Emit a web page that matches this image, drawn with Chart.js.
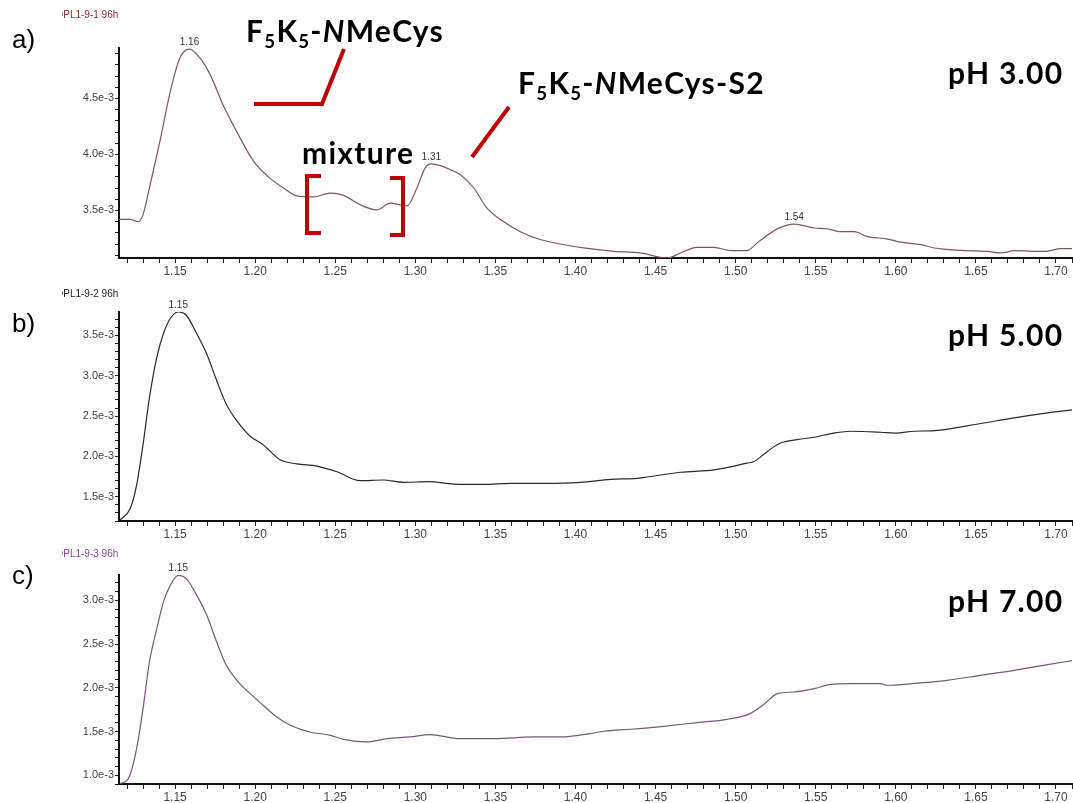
<!DOCTYPE html>
<html>
<head>
<meta charset="utf-8">
<script src="https://cdn.jsdelivr.net/npm/chart.js@4.4.1/dist/chart.umd.min.js"></script>
<style>
body { margin:0; background:#fff; width:1073px; height:803px; overflow:hidden; position:relative; font-family:"Liberation Sans", Arial, sans-serif; }
canvas { position:absolute; left:0; }
.lbl { position:absolute; white-space:nowrap; line-height:1; }
.big { font-family:Lato, "Open Sans", sans-serif; font-weight:700; font-size:30px; letter-spacing:1.3px; color:#000; }
.panel { font-size:26px; color:#000; }
.run { font-size:10px; overflow:hidden; width:62px; }
.run span { margin-left:-6px; }
sub { font-size:0.62em; vertical-align:-0.3em; line-height:0; }
</style>
</head>
<body>
<canvas id="chartA" width="1073" height="285" style="top:0"></canvas>
<canvas id="chartB" width="1073" height="260" style="top:285px"></canvas>
<canvas id="chartC" width="1073" height="258" style="top:545px"></canvas>

<!-- etiquetas de texto -->
<div class="lbl panel" style="left:12px;top:26px">a)</div>
<div class="lbl panel" style="left:12px;top:310px">b)</div>
<div class="lbl panel" style="left:12px;top:562px">c)</div>
<div class="lbl run" style="left:62px;top:10px;color:#8b2a2a"><span>DPL1-9-1 96h</span></div>
<div class="lbl run" style="left:62px;top:289px;color:#222"><span>DPL1-9-2 96h</span></div>
<div class="lbl run" style="left:62px;top:549px;color:#8e3fa0"><span>DPL1-9-3 96h</span></div>
<div class="lbl big" style="left:246px;top:15px">F<sub>5</sub>K<sub>5</sub>-<i>N</i>MeCys</div>
<div class="lbl big" style="left:518px;top:67px">F<sub>5</sub>K<sub>5</sub>-<i>N</i>MeCys-S2</div>
<div class="lbl big" style="left:302px;top:137px">mixture</div>
<div class="lbl big" style="left:948px;top:57px">pH 3.00</div>
<div class="lbl big" style="left:948px;top:319px">pH 5.00</div>
<div class="lbl big" style="left:948px;top:585px">pH 7.00</div>

<!-- lineas rojas de anotacion -->
<svg width="1073" height="803" style="position:absolute;left:0;top:0" fill="none" stroke="#c00000" stroke-width="4">
  <polyline points="254,104 322,104 344,49"/>
  <line x1="472" y1="157" x2="509" y2="107"/>
  <polyline points="321,176 307,176 307,233 321,233"/>
  <polyline points="390,178 403,178 403,235 390,235"/>
</svg>

<script>
// Datos de cada cromatograma (x en min, y en unidades de 1e-3)
const xA = [1.115,1.122,1.127,1.130,1.134,1.1406,1.147,1.153,1.159,1.1656,1.172,1.180,1.1886,1.199,1.209,1.2177,1.226,1.2365,1.247,1.2552,1.2656,1.276,1.2844,1.2906,1.2948,1.301,1.3062,1.310,1.3156,1.322,1.328,1.3365,1.3448,1.355,1.3656,1.378,1.3906,1.405,1.424,1.4406,1.4573,1.4656,1.476,1.4865,1.497,1.507,1.5135,1.526,1.5365,1.549,1.557,1.5656,1.574,1.582,1.5948,1.603,1.6156,1.624,1.6406,1.657,1.6656,1.674,1.693,1.703,1.711];
const yA = [3.42,3.42,3.40,3.46,3.70,4.12,4.56,4.86,4.94,4.86,4.71,4.44,4.20,3.94,3.79,3.70,3.63,3.62,3.655,3.634,3.55,3.505,3.565,3.55,3.54,3.70,3.88,3.915,3.90,3.863,3.82,3.70,3.52,3.40,3.31,3.24,3.20,3.165,3.135,3.12,3.075,3.12,3.17,3.17,3.14,3.14,3.21,3.335,3.378,3.343,3.336,3.31,3.31,3.268,3.244,3.217,3.194,3.164,3.143,3.134,3.12,3.14,3.134,3.158,3.158];

const xB = [1.1156,1.122,1.126,1.130,1.134,1.1386,1.1427,1.147,1.152,1.157,1.1636,1.1698,1.176,1.182,1.1886,1.1969,1.205,1.2156,1.226,1.2386,1.251,1.2656,1.280,1.2927,1.309,1.324,1.3427,1.3594,1.380,1.403,1.4219,1.4385,1.443,1.4656,1.4865,1.507,1.5115,1.5198,1.528,1.5385,1.549,1.5615,1.5719,1.5906,1.599,1.6115,1.624,1.653,1.674,1.6948,1.711];
const yB = [1.21,1.354,1.646,2.146,2.729,3.229,3.52,3.71,3.79,3.75,3.52,3.27,2.94,2.646,2.44,2.25,2.146,1.958,1.908,1.879,1.81,1.70,1.708,1.679,1.688,1.658,1.654,1.667,1.667,1.679,1.716,1.729,1.74,1.804,1.833,1.917,1.9375,2.0625,2.167,2.208,2.2375,2.29,2.3125,2.30,2.29,2.3125,2.32,2.408,2.479,2.54,2.58];

const xC = [1.1156,1.1208,1.126,1.130,1.134,1.1386,1.1427,1.147,1.152,1.157,1.1636,1.1698,1.176,1.182,1.1886,1.1969,1.205,1.2135,1.222,1.234,1.247,1.2552,1.270,1.2823,1.2969,1.309,1.328,1.349,1.374,1.3906,1.409,1.4177,1.4344,1.455,1.476,1.4948,1.509,1.5177,1.526,1.5365,1.549,1.5594,1.5719,1.5906,1.5948,1.6115,1.632,1.653,1.674,1.6948,1.711];
const yC = [0.905,0.962,1.305,1.762,2.295,2.676,2.98,3.171,3.285,3.248,3.057,2.829,2.524,2.257,2.086,1.933,1.80,1.667,1.571,1.495,1.457,1.411,1.381,1.419,1.438,1.465,1.419,1.419,1.438,1.438,1.476,1.503,1.526,1.56,1.602,1.64,1.705,1.811,1.933,1.952,1.99,2.04,2.048,2.048,2.029,2.05,2.086,2.143,2.2,2.265,2.314];

// Picos etiquetados
const picosA = [1.159, 1.310, 1.5365];
const etiquetasA = ["1.16", "1.31", "1.54"];
const picosB = [1.152];
const etiquetasB = ["1.15"];
const picosC = [1.152];
const etiquetasC = ["1.15"];

// Plugin para escribir el tiempo encima de cada pico
const etiquetasPico = {
    id: 'etiquetasPico',
    afterDatasetsDraw(chart, args, opts) {
        const ctx = chart.ctx;
        const pts = chart.data.datasets[0].data;
        ctx.save();
        ctx.font = '10px "Liberation Sans", Arial';
        ctx.fillStyle = '#333';
        ctx.textAlign = 'center';
        ctx.textBaseline = 'bottom';
        opts.picos.forEach((px, i) => {
            // buscamos el punto mas cercano
            let best = pts[0];
            for (const p of pts) if (Math.abs(p.x - px) < Math.abs(best.x - px)) best = p;
            const x = chart.scales.x.getPixelForValue(best.x);
            const y = chart.scales.y.getPixelForValue(best.y);
            ctx.fillText(opts.etiquetas[i], x, y - 2);
        });
        ctx.restore();
    }
};

function crearPanel(id, xs, ys, color, yMin, yMax, padTop, altoEjeX, picos, etiquetas) {
    const datos = xs.map((x, i) => ({ x: x, y: ys[i] }));
    return new Chart(document.getElementById(id), {
        type: 'line',
        data: { datasets: [{ data: datos, borderColor: color, borderWidth: 1.2, pointRadius: 0, cubicInterpolationMode: 'monotone', fill: false }] },
        options: {
            responsive: false,
            animation: false,
            layout: { padding: { top: padTop, left: 0, right: 0, bottom: 0 } },
            plugins: { legend: { display: false }, tooltip: { enabled: false }, etiquetasPico: { picos: picos, etiquetas: etiquetas } },
            scales: {
                x: {
                    type: 'linear', min: 1.115, max: 1.71,
                    afterBuildTicks(scale) {
                        const t = [];
                        for (let k = 112; k <= 171; k++) t.push({ value: k / 100 });
                        scale.ticks = t;
                    },
                    afterFit(scale) { scale.height = altoEjeX; },
                    ticks: {
                        autoSkip: false, maxRotation: 0, minRotation: 0, padding: 1,
                        color: '#444', font: { size: 12, family: '"Liberation Sans", Arial' },
                        callback: v => Math.abs(v * 20 - Math.round(v * 20)) < 1e-6 ? v.toFixed(2) : ''
                    },
                    grid: { drawOnChartArea: false, drawTicks: true, tickLength: 5, color: '#222' },
                    border: { color: '#111', width: 2 }
                },
                y: {
                    min: yMin, max: yMax,
                    afterBuildTicks(scale) {
                        const t = [];
                        for (let k = Math.ceil(yMin * 10); k <= Math.floor(yMax * 10); k++) t.push({ value: k / 10 });
                        scale.ticks = t;
                    },
                    afterFit(scale) { scale.width = 119; },
                    ticks: {
                        autoSkip: false, padding: 1,
                        color: '#444', font: { size: 11, family: '"Liberation Sans", Arial' },
                        callback: v => Math.abs(v * 2 - Math.round(v * 2)) < 1e-6 ? v.toFixed(1) + 'e-3' : ''
                    },
                    grid: { drawOnChartArea: false, drawTicks: true, tickLength: 4, color: '#222' },
                    border: { color: '#111', width: 2 }
                }
            }
        },
        plugins: [etiquetasPico]
    });
}

crearPanel('chartA', xA, yA, '#845656', 3.075, 4.95, 48, 27, picosA, etiquetasA);
crearPanel('chartB', xB, yB, '#2a2a2a', 1.2, 3.79, 27, 24, picosB, etiquetasB);
crearPanel('chartC', xC, yC, '#7a557f', 0.9, 3.29, 30, 19, picosC, etiquetasC);
</script>
</body>
</html>
